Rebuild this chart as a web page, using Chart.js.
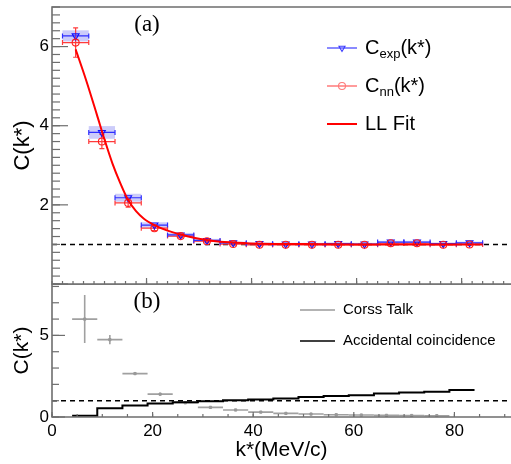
<!DOCTYPE html>
<html>
<head>
<meta charset="utf-8">
<script src="https://cdn.jsdelivr.net/npm/chart.js@4.4.1/dist/chart.umd.min.js"></script>
<style>
  html, body { margin: 0; padding: 0; background: #fff; }
  #wrap { position: relative; width: 511px; height: 464px; overflow: hidden; }
  canvas { position: absolute; left: 0; }
  #topPanel { top: 0; }
  #bottomPanel { top: 284px; }
</style>
</head>
<body>
<div id="wrap">
  <canvas id="topPanel" width="511" height="285"></canvas>
  <canvas id="bottomPanel" width="511" height="180"></canvas>
</div>
<script>
// k* bin centres (MeV/c), bins are 5 MeV/c wide
const binCenters = [6.5, 11.5, 16.5, 21.5, 26.5, 31.5, 36.5, 41.5, 46.5, 51.5, 56.5, 61.5, 66.5, 71.5, 76.5, 81.5];
const binHalfWidth = 2.5;

// (a) measured correlation with systematic band
const cExp    = [6.27, 3.83, 2.18, 1.49, 1.24, 1.10, 1.04, 1.02, 1.01, 1.01, 1.02, 1.01, 1.06, 1.06, 1.02, 1.04];
const cExpSys = [0.14, 0.16, 0.10, 0.07, 0.05, 0.04, 0.03, 0.03, 0.03, 0.03, 0.03, 0.03, 0.03, 0.03, 0.03, 0.03];

// (a) corrected nn correlation with stat errors
const cNn    = [6.10, 3.60, 2.05, 1.41, 1.21, 1.08, 1.01, 0.99, 0.99, 0.99, 0.99, 0.99, 1.03, 1.03, 0.99, 1.00];
const cNnErr = [0.37, 0.18, 0.11, 0.06, 0.04, 0.03, 0.02, 0.02, 0.02, 0.02, 0.02, 0.02, 0.02, 0.02, 0.02, 0.02];

// (a) Lednicky-Lyuboshitz fit curve
const fitK = [6.5, 8.5, 10.5, 12, 13.5, 15, 16.5, 18, 19.5, 21.5, 24, 26.5, 29, 31.5, 34, 36.5, 41.5, 50, 60, 70, 84];
const fitC = [5.93, 5.15, 4.30, 3.65, 3.05, 2.55, 2.12, 1.84, 1.65, 1.49, 1.35, 1.25, 1.17, 1.11, 1.07, 1.05, 1.02, 1.01, 1.00, 1.00, 1.00];

// (b) cross talk contribution (first 15 bins)
const crossTalk    = [6.00, 4.74, 2.66, 1.40, 0.87, 0.59, 0.43, 0.30, 0.22, 0.18, 0.14, 0.12, 0.10, 0.09, 0.08];
const crossTalkErr = [1.47, 0.28, 0.08, 0.08, 0.04, 0.03, 0.03, 0.02, 0.02, 0.02, 0.02, 0.02, 0.02, 0.02, 0.02];

// (b) accidental coincidence histogram
const accidental = [0.08, 0.53, 0.70, 0.83, 0.91, 0.96, 1.02, 1.08, 1.14, 1.22, 1.28, 1.34, 1.44, 1.50, 1.55, 1.65];

// labelled ticks
const topYTicks = [2, 4, 6];
const bottomYTicks = [0, 5];
const bottomXTicks = [0, 20, 40, 60, 80];

const SANS = "'Liberation Sans', Arial, Helvetica, sans-serif";
const SERIF = "'Liberation Serif', 'Times New Roman', serif";
const FRAME = '#6e6e6e';

Chart.defaults.font.family = SANS;
Chart.defaults.color = '#000';

function drawMarker(ctx, style, x, y, r) {
    ctx.beginPath();
    if (style === 'triangleDown') {
        ctx.moveTo(x - r * 0.866, y - r * 0.5);
        ctx.lineTo(x + r * 0.866, y - r * 0.5);
        ctx.lineTo(x, y + r);
        ctx.closePath();
    } else if (style === 'circle') {
        ctx.arc(x, y, r, 0, Math.PI * 2);
    }
    ctx.stroke();
}

// inner tick marks along one scale
function innerTicks(ctx, scale, area, step, len, horizontal) {
    const first = Math.ceil(scale.min / step - 1e-9);
    for (let i = first; i * step <= scale.max + 1e-9; i++) {
        const p = scale.getPixelForValue(i * step);
        ctx.beginPath();
        if (horizontal) {
            ctx.moveTo(p, area.bottom);
            ctx.lineTo(p, area.bottom - len);
        } else {
            ctx.moveTo(area.left, p);
            ctx.lineTo(area.left + len, p);
        }
        ctx.stroke();
    }
}

const fixedTicks = values => scale => { scale.ticks = values.map(v => ({ value: v })); };
const noPad = scale => {
    scale.paddingTop = 0; scale.paddingBottom = 0;
    scale.paddingLeft = 0; scale.paddingRight = 0;
};

const panelPlugin = {
    id: 'panel',
    beforeDatasetsDraw(chart, args, o) {
        const { ctx, chartArea: a, scales: { x, y } } = chart;
        ctx.save();
        ctx.beginPath();
        ctx.rect(a.left, a.top, a.right - a.left, a.bottom - a.top);
        ctx.clip();

        // systematic boxes
        chart.data.datasets.forEach(ds => {
            if (!ds.sysErr) return;
            ctx.fillStyle = ds.sysColor;
            ds.data.forEach((p, i) => {
                const x0 = x.getPixelForValue(p.x - binHalfWidth);
                const x1 = x.getPixelForValue(p.x + binHalfWidth);
                const y0 = y.getPixelForValue(p.y + ds.sysErr[i]);
                const y1 = y.getPixelForValue(p.y - ds.sysErr[i]);
                ctx.fillRect(x0, y0, x1 - x0, y1 - y0);
            });
        });

        // unity reference line
        ctx.strokeStyle = '#000';
        ctx.lineWidth = 1.5;
        ctx.setLineDash([5, 4]);
        const yu = y.getPixelForValue(1);
        ctx.beginPath();
        ctx.moveTo(a.left, yu);
        ctx.lineTo(a.right, yu);
        ctx.stroke();
        ctx.setLineDash([]);

        // error bars
        chart.data.datasets.forEach(ds => {
            if (!ds.errX && !ds.errY) return;
            ctx.strokeStyle = ds.errColor;
            ctx.lineWidth = ds.errWidth || 1.2;
            const cap = ds.errCap || 0;
            ds.data.forEach((p, i) => {
                const px = x.getPixelForValue(p.x);
                const py = y.getPixelForValue(p.y);
                ctx.beginPath();
                if (ds.errX) {
                    const xl = x.getPixelForValue(p.x - ds.errX);
                    const xr = x.getPixelForValue(p.x + ds.errX);
                    ctx.moveTo(xl, py); ctx.lineTo(xr, py);
                    if (cap) {
                        ctx.moveTo(xl, py - cap); ctx.lineTo(xl, py + cap);
                        ctx.moveTo(xr, py - cap); ctx.lineTo(xr, py + cap);
                    }
                }
                if (ds.errY) {
                    const yt = y.getPixelForValue(p.y + ds.errY[i]);
                    const yb = y.getPixelForValue(p.y - ds.errY[i]);
                    ctx.moveTo(px, yt); ctx.lineTo(px, yb);
                    if (cap) {
                        ctx.moveTo(px - cap, yt); ctx.lineTo(px + cap, yt);
                        ctx.moveTo(px - cap, yb); ctx.lineTo(px + cap, yb);
                    }
                }
                ctx.stroke();
            });
        });
        ctx.restore();
    },
    afterDraw(chart, args, o) {
        const { ctx, chartArea: a, scales: { x, y } } = chart;
        ctx.save();

        // frame
        ctx.strokeStyle = FRAME;
        ctx.lineWidth = 1.6;
        ctx.beginPath();
        ctx.moveTo(a.right + 2, a.top);
        ctx.lineTo(a.left, a.top);
        ctx.lineTo(a.left, a.bottom);
        ctx.lineTo(a.right + 2, a.bottom);
        ctx.stroke();

        // tick marks pointing into the frame
        ctx.lineWidth = 1.2;
        const t = o.ticks;
        innerTicks(ctx, x, a, t.xMinor, t.xMinorLen, true);
        innerTicks(ctx, x, a, t.xMajor, t.xMajorLen, true);
        innerTicks(ctx, y, a, t.yMinor, t.yMinorLen, false);
        innerTicks(ctx, y, a, t.yMajor, t.yMajorLen, false);

        // panel tag
        ctx.fillStyle = '#000';
        ctx.font = `23px ${SERIF}`;
        ctx.textAlign = 'center';
        ctx.textBaseline = 'middle';
        ctx.fillText(o.tag.text, o.tag.x, o.tag.y);

        // legend
        const lg = o.legend;
        ctx.textAlign = 'left';
        lg.items.forEach((it, i) => {
            const yy = lg.y + i * lg.gap;
            ctx.strokeStyle = it.color;
            ctx.lineWidth = it.width;
            ctx.beginPath();
            ctx.moveTo(lg.x, yy);
            ctx.lineTo(lg.x + lg.len, yy);
            ctx.stroke();
            if (it.marker) {
                ctx.lineWidth = 1.1;
                drawMarker(ctx, it.marker, lg.x + lg.len / 2, yy, 3.5);
            }
            let tx = lg.x + lg.len + lg.textGap;
            ctx.fillStyle = '#000';
            ctx.font = `${lg.size}px ${SANS}`;
            ctx.fillText(it.text, tx, yy);
            tx += ctx.measureText(it.text).width;
            if (it.sub) {
                ctx.font = `${Math.round(lg.size * 0.66)}px ${SANS}`;
                ctx.fillText(it.sub, tx, yy + lg.size * 0.3);
                tx += ctx.measureText(it.sub).width;
                ctx.font = `${lg.size}px ${SANS}`;
                ctx.fillText(it.tail, tx, yy);
            }
        });
        ctx.restore();
    }
};

const pts = (xs, ys) => xs.map((k, i) => ({ x: k, y: ys[i] }));

// panel (a)
new Chart(document.getElementById('topPanel'), {
    type: 'scatter',
    data: {
        datasets: [
            {
                type: 'line',
                label: 'LL Fit',
                data: pts(fitK, fitC),
                borderColor: '#ff0000',
                borderWidth: 2,
                pointRadius: 0,
                cubicInterpolationMode: 'monotone',
                fill: false
            },
            {
                label: 'Cnn(k*)',
                data: pts(binCenters, cNn),
                errX: binHalfWidth,
                errY: cNnErr,
                errColor: '#ff3b3b',
                errCap: 2.5,
                pointStyle: 'circle',
                pointRadius: 3.5,
                borderColor: '#ff2020',
                borderWidth: 1.1,
                backgroundColor: 'rgba(255,255,255,0)'
            },
            {
                label: 'Cexp(k*)',
                data: pts(binCenters, cExp),
                sysErr: cExpSys,
                sysColor: 'rgba(100,100,240,0.33)',
                errX: binHalfWidth,
                errColor: '#2f2fff',
                errCap: 2.5,
                pointStyle: 'triangle',
                rotation: 180,
                pointRadius: 4,
                borderColor: '#1010ff',
                borderWidth: 1.1,
                backgroundColor: 'rgba(255,255,255,0)'
            }
        ]
    },
    options: {
        responsive: false,
        animation: false,
        layout: { autoPadding: false, padding: { top: 7, left: 0, right: 0, bottom: 0 } },
        scales: {
            x: {
                type: 'linear', min: 2, max: 89.4,
                grid: { display: false, drawTicks: false },
                border: { display: false },
                ticks: { display: false },
                afterFit: s => { s.height = 1; noPad(s); }
            },
            y: {
                type: 'linear', min: 0, max: 7,
                grid: { display: false, drawTicks: false },
                border: { display: false },
                ticks: { padding: 3, font: { size: 17 } },
                afterBuildTicks: fixedTicks(topYTicks),
                title: { display: true, text: 'C(k*)', font: { size: 22 }, padding: { top: 10, bottom: 0 } },
                afterFit: s => { s.width = 52; noPad(s); }
            }
        },
        plugins: {
            legend: { display: false },
            tooltip: { enabled: false },
            panel: {
                ticks: { xMinor: 2, xMajor: 20, xMinorLen: 3, xMajorLen: 6, yMinor: 0.2, yMajor: 2, yMinorLen: 8, yMajorLen: 16 },
                tag: { text: '(a)', x: 147, y: 25 },
                legend: {
                    x: 327, y: 48, gap: 38, len: 30, textGap: 8, size: 20,
                    items: [
                        { color: '#3b3bff', width: 1.2, marker: 'triangleDown', text: 'C', sub: 'exp', tail: '(k*)' },
                        { color: '#ff7a7a', width: 1.5, marker: 'circle', text: 'C', sub: 'nn', tail: '(k*)' },
                        { color: '#ff0000', width: 2, text: 'LL Fit' }
                    ]
                }
            }
        }
    },
    plugins: [panelPlugin]
});

// panel (b)
const accEdges = binCenters.map(k => k - binHalfWidth).concat([binCenters[binCenters.length - 1] + binHalfWidth]);
const accSteps = accidental.concat([accidental[accidental.length - 1]]);

new Chart(document.getElementById('bottomPanel'), {
    type: 'scatter',
    data: {
        datasets: [
            {
                type: 'line',
                label: 'Accidental coincidence',
                data: pts(accEdges, accSteps),
                stepped: 'before',
                borderColor: '#000',
                borderWidth: 2,
                pointRadius: 0,
                fill: false
            },
            {
                label: 'Corss Talk',
                data: pts(binCenters.slice(0, crossTalk.length), crossTalk),
                errX: binHalfWidth,
                errY: crossTalkErr,
                errColor: '#a0a0a0',
                errWidth: 1.6,
                pointStyle: 'rect',
                pointRadius: 1.6,
                borderColor: '#999',
                backgroundColor: '#999',
                borderWidth: 1
            }
        ]
    },
    options: {
        responsive: false,
        animation: false,
        layout: { autoPadding: false, padding: { top: 0, left: 0, right: 0, bottom: 0 } },
        scales: {
            x: {
                type: 'linear', min: 0, max: 91.25,
                grid: { display: false, drawTicks: false },
                border: { display: false },
                ticks: { padding: 4, font: { size: 17 }, maxRotation: 0 },
                afterBuildTicks: fixedTicks(bottomXTicks),
                title: { display: true, text: 'k*(MeV/c)', font: { size: 21 }, padding: { top: 0, bottom: 1 } },
                afterFit: s => { s.height = 47; noPad(s); }
            },
            y: {
                type: 'linear', min: 0, max: 8.15,
                grid: { display: false, drawTicks: false },
                border: { display: false },
                ticks: { padding: 3, font: { size: 17 } },
                afterBuildTicks: fixedTicks(bottomYTicks),
                title: { display: true, text: 'C(k*)', font: { size: 21 }, padding: { top: 10, bottom: 0 } },
                afterFit: s => { s.width = 52; noPad(s); }
            }
        },
        plugins: {
            legend: { display: false },
            tooltip: { enabled: false },
            panel: {
                ticks: { xMinor: 5, xMajor: 20, xMinorLen: 3, xMajorLen: 5, yMinor: 1, yMajor: 5, yMinorLen: 7, yMajorLen: 13 },
                tag: { text: '(b)', x: 147, y: 18 },
                legend: {
                    x: 300, y: 26, gap: 31, len: 35, textGap: 8, size: 15,
                    items: [
                        { color: '#9a9a9a', width: 1.6, text: 'Corss Talk' },
                        { color: '#000', width: 1.6, text: 'Accidental coincidence' }
                    ]
                }
            }
        }
    },
    plugins: [panelPlugin]
});
</script>
</body>
</html>
